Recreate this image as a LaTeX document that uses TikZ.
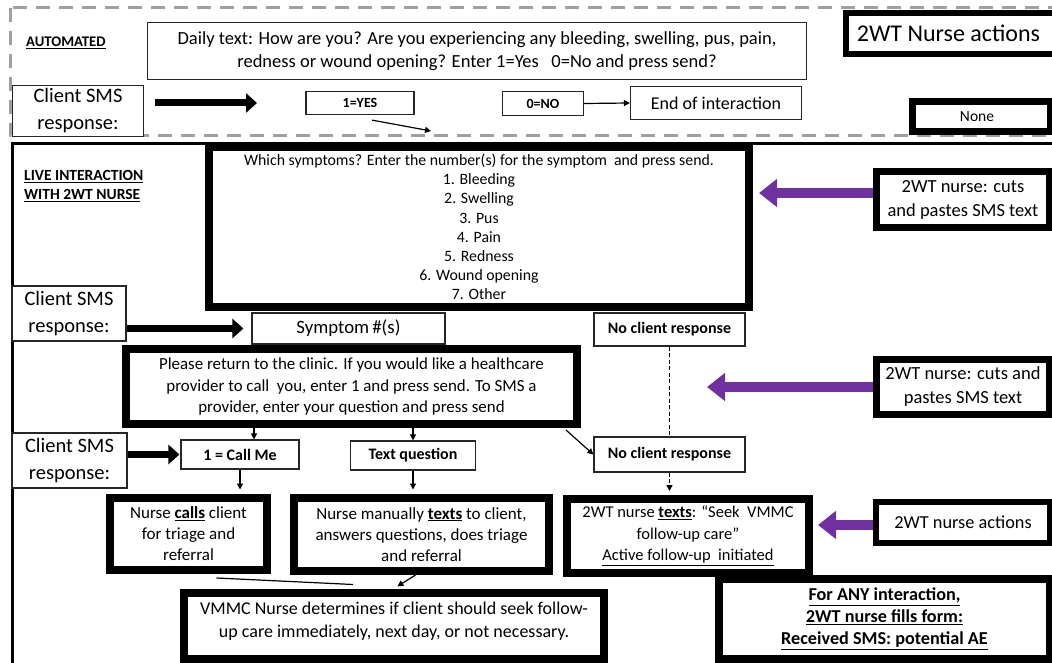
\documentclass[tikz,border=0pt]{standalone}
\usepackage{fontspec}
\setmainfont{Carlito}
\usetikzlibrary{arrows.meta}
\definecolor{purp}{HTML}{7030A0}
\newcommand{\fs}[2]{\fontsize{#1}{#2}\selectfont}
\tikzset{
  thinbox/.style={draw=black!85, line width=1.2pt, fill=white, align=center, inner sep=0pt},
  thickbox/.style={draw=black, line width=#1, fill=white, align=center, inner sep=0pt},
  thickbox/.default=8pt,
  lbl/.style={align=left, inner sep=0pt, anchor=west},
  blockarrow/.style={draw=black, line width=7pt, -{Triangle[length=11pt,width=19pt]}},
  purparrow/.style={draw=purp, line width=10pt, -{Triangle[length=18pt,width=27pt]}},
  thinarrow/.style={draw=black, line width=1.2pt, -{Triangle[length=6pt,width=6pt]}},
  plainline/.style={draw=black, line width=1.2pt},
  dashline/.style={draw=black, line width=1.5pt, dash pattern=on 4pt off 2.5pt},
}
\begin{document}
\begin{tikzpicture}[x=1pt,y=-1pt]
\useasboundingbox (0,0) rectangle (1052,663);
\clip (0,0) rectangle (1052,663);
\fill[white] (0,0) rectangle (1052,663);

% frames
\draw[gray!75, line width=3pt, dash pattern=on 14pt off 9pt] (10,8) rectangle (1075,136);
\draw[black, line width=3pt] (12,144) rectangle (1075,700);

% labels
\node[lbl, font=\fs{14.7}{18}\bfseries] (auto) at (26,43) {\underline{AUTOMATED}};
\node[lbl, font=\fs{15.5}{19}\bfseries] (live) at (24,186) {\underline{LIVE INTERACTION}\\\underline{WITH 2WT NURSE}};

% automated section
\node[thinbox, minimum width=659pt, minimum height=57pt, font=\fs{18.5}{22.5}] (daily) at (477,51)
  {Daily text: How are you? Are you experiencing any bleeding, swelling, pus, pain,\\redness or wound opening? Enter 1=Yes\ \ \ 0=No and press send?};
\node[thickbox=6pt, minimum width=209pt, minimum height=41pt, font=\fs{24}{26}] (topact) at (950.5,33.5) {2WT Nurse actions\hspace*{4pt}};
\node[thinbox, minimum width=131pt, minimum height=51pt, font=\fs{20.5}{27}] (client1) at (78,111) {Client SMS\\response:};
\node[thinbox, minimum width=108pt, minimum height=23pt, font=\fs{14}{16}\bfseries] (yes) at (360,103) {1=YES};
\node[thinbox, minimum width=81pt, minimum height=24pt, font=\fs{14}{16}\bfseries] (no) at (543,103.5) {0=NO};
\node[thinbox, minimum width=171pt, minimum height=33pt, font=\fs{18}{22}] (endi) at (716,103) {End of interaction};
\node[thickbox=7pt, minimum width=138pt, minimum height=30pt, font=\fs{15.5}{17}] (none) at (981,116.5) {None\hspace*{8pt}};

\coordinate (a1s) at (155,103);
\coordinate (a1e) at (257,103);
\draw[blockarrow] (a1s) -- (a1e);
\coordinate (yesEnd) at (431,131);
\draw[thinarrow] ([xshift=12pt,yshift=-5pt]yes.south) -- (yesEnd);
\draw[thinarrow] (no.east) -- (endi.west);

% live section
\node[thickbox=7.5pt, minimum width=540pt, minimum height=160pt, font=\fs{15.8}{19.2}] (symp) at (479,227)
  {Which symptoms? Enter the number(s) for the symptom\ \ and press send.\\1. Bleeding\\2. Swelling\\3. Pus\\4. Pain\\5. Redness\\6. Wound opening\\7. Other};
\node[thickbox=7pt, minimum width=173.5pt, minimum height=56pt, font=\fs{18.5}{24}] (cuts1) at (963,199.5) {2WT nurse: cuts\\and pastes SMS text};
\node[thinbox, minimum width=114pt, minimum height=55pt, font=\fs{20.5}{27}] (client2) at (69,313.5) {Client SMS\\response:};
\node[thinbox, minimum width=193pt, minimum height=31pt, font=\fs{18.8}{21}] (symnum) at (348.5,328.5) {Symptom\,\#(s)};
\node[thinbox, minimum width=151pt, minimum height=33pt, font=\fs{16}{18}\bfseries] (nocr1) at (669.5,329.5) {No client response};
\node[thickbox=8pt, minimum width=451pt, minimum height=75pt, font=\fs{16.9}{21.5}] (please) at (351.5,386.5)
  {Please return to the clinic. If you would like a healthcare\\provider to call\ \ you, enter 1 and press send. To SMS a\\provider, enter your question and press send};
\node[thickbox=7pt, minimum width=173.5pt, minimum height=55pt, font=\fs{18.5}{24}] (cuts2) at (963,387) {2WT nurse: cuts and\\pastes SMS text};
\node[thinbox, minimum width=115pt, minimum height=55pt, font=\fs{20.5}{27}] (client3) at (69.5,460.5) {Client SMS\\response:};
\node[thinbox, minimum width=118pt, minimum height=29pt, font=\fs{16}{18}\bfseries] (callme) at (240,454.5) {1 = Call Me};
\node[thinbox, minimum width=125pt, minimum height=29pt, font=\fs{16}{18}\bfseries] (textq) at (413,455.5) {Text question};
\node[thinbox, minimum width=151pt, minimum height=35pt, font=\fs{16}{18}\bfseries] (nocr2) at (669.5,454.5) {No client response};
\node[thickbox=8pt, minimum width=157pt, minimum height=72.5pt, font=\fs{17}{21}] (calls) at (188.5,533.75)
  {Nurse \textbf{\underline{calls}} client\\for triage and\\referral};
\node[thickbox=8pt, minimum width=255pt, minimum height=73.5pt, font=\fs{17}{21}] (manual) at (421.5,534.25)
  {Nurse manually \textbf{\underline{texts}} to client,\\answers questions, does triage\\and referral};
\node[thickbox=8pt, minimum width=242pt, minimum height=73.5pt, font=\fs{16.5}{21.5}] (texts) at (688,535.75)
  {2WT nurse \textbf{\underline{texts}}: “Seek\ \ VMMC\\follow-up care”\\\underline{Active follow-up\ \ initiated}};
\node[thickbox=6pt, minimum width=174pt, minimum height=41pt, font=\fs{18.3}{20}] (act2) at (963,522.5) {2WT nurse actions};
\node[thickbox=8pt, minimum width=420pt, minimum height=66.5pt, font=\fs{18}{23.5}, text depth=12pt] (vmmc) at (394,625.75)
  {VMMC Nurse determines if client should seek follow-\\up care immediately, next day, or not necessary.};
\node[thickbox=8pt, minimum width=331pt, minimum height=80pt, font=\fs{18.2}{22}\bfseries] (forany) at (884.5,619)
  {\underline{For ANY interaction,}\\\underline{2WT nurse fills form:}\\\underline{Received SMS: potential AE}};

% connectors
\draw[blockarrow] (client2.east |- symnum.west) -- ([xshift=-8pt]symnum.west);
\draw[blockarrow] (client3.east |- callme.west) -- ([xshift=-1pt]callme.west);

\coordinate (p1) at (759,193);
\coordinate (p2) at (707,387);
\coordinate (p3) at (818,525);
\draw[purparrow] (cuts1.west |- p1) -- (p1);
\draw[purparrow] (cuts2.west |- p2) -- (p2);
\draw[purparrow] (act2.west |- p3) -- (p3);

\draw[dashline] (nocr1.south) -- (nocr2.north);
\path ([xshift=14pt]callme.north) coordinate (cmTop);
\draw[thinarrow] (please.south -| cmTop) -- (cmTop);
\draw[thinarrow] (please.south -| textq.north) -- (textq.north);
\draw[thinarrow] ([xshift=-15pt,yshift=-2pt]please.south east) -- (nocr2.west);
\draw[thinarrow, shorten >=4pt] (callme.south) -- (callme.south |- calls.north);
\draw[thinarrow, shorten >=4pt] (textq.south) -- (textq.south |- manual.north);
\draw[dashline, -{Triangle[length=6pt,width=6pt]}, shorten >=4pt] (nocr2.south) -- (nocr2.south |- texts.north);
\draw[plainline] ([xshift=28pt,yshift=-4pt]calls.south) -- ([xshift=-41pt,yshift=4pt]vmmc.north);
\draw[thinarrow, shorten >=4pt] ([xshift=-6pt]manual.south) -- (vmmc.north);
\end{tikzpicture}
\end{document}
